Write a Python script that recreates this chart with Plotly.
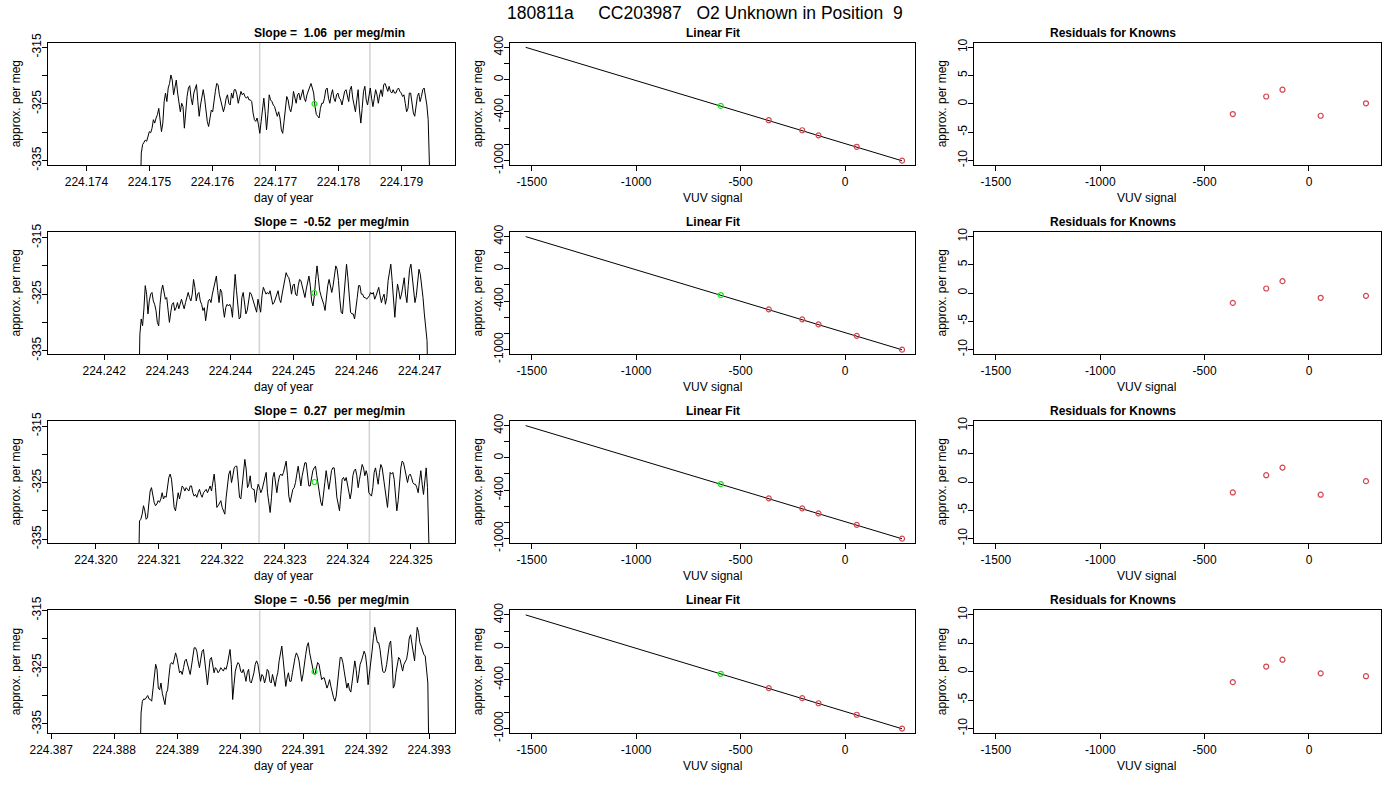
import numpy as np
import plotly.graph_objects as go

W, H = 1400, 800
FONT = "Liberation Sans, Arial, Helvetica, sans-serif"

main_title = "180811a     CC203987   O2 Unknown in Position  9"
slopes = ["1.06", "-0.52", "0.27", "-0.56"]

# time series, one per row (approx. per meg vs day of year)
t_start = [224.174849, 224.242545, 224.320671, 224.388406]
t_end = [224.179467, 224.247138, 224.325306, 224.393000]
x_lims = [[224.17339, 224.17985], [224.24111, 224.24756],
          [224.31924, 224.32570], [224.38695, 224.39341]]
gates = [[224.17675, 224.17850], [224.24446, 224.24621],
         [224.32259, 224.32434], [224.39031, 224.39206]]
unk_time = [224.17762, 224.24533, 224.32347, 224.39118]
unk_pm = [-325.0, -324.8, -324.9, -325.8]

series_1 = [
    -345, -333.7, -332.2, -331.9, -331.4, -331.6, -330.5, -329.9, -330.1, -329.3, -327.8, -328.4, -327.5,
    -326.9, -325.8, -327.8, -329.9, -328.4, -324.6, -323.1, -324.6, -322.2, -321.4, -319.9, -320.8, -323.4,
    -322.2, -320.8, -323.1, -324.9, -326.4, -324.9, -325.5, -329.3, -326.1, -323.7, -322.2, -321.8, -324.0,
    -325.2, -323.1, -322.5, -321.6, -324.6, -327.2, -325.2, -323.4, -322.5, -324.0, -326.4, -328.1, -329.0,
    -327.5, -326.1, -326.4, -324.0, -322.8, -321.4, -321.6, -323.4, -324.6, -325.8, -326.4, -325.5, -324.0,
    -323.4, -324.9, -325.2, -323.1, -324.0, -322.5, -322.5, -323.4, -324.9, -324.0, -322.8, -323.4, -323.1,
    -323.7, -324.0, -323.7, -324.3, -324.3, -324.6, -326.6, -327.8, -328.1, -327.5, -328.7, -330.2, -328.1,
    -325.5, -324.0, -326.4, -329.6, -326.9, -323.4, -324.3, -324.6, -325.2, -325.5, -326.4, -327.2, -326.4,
    -327.5, -329.6, -330.2, -328.1, -326.1, -323.7, -324.3, -325.8, -326.4,
    -325.2, -322.8, -324.0, -324.9, -323.4, -323.1, -324.3, -323.4, -322.5, -324.0, -324.6, -323.4, -322.8,
    -321.9, -321.4, -322.2, -323.1, -325.5, -326.9, -327.2, -327.5, -325.8, -324.9, -324.9, -324.0, -322.5,
    -322.2, -324.0, -324.9, -323.4, -322.5, -324.0, -324.6, -323.4, -323.1, -324.0, -324.3, -325.2, -324.0,
    -322.8, -322.5, -323.7, -324.6, -322.5, -321.9, -324.0, -325.5, -326.4, -324.3, -322.5, -326.1, -328.4,
    -325.8, -322.8, -321.9, -324.3, -325.2, -323.4, -322.2, -324.0, -325.5, -324.0, -322.5, -323.4, -324.9,
    -323.4, -322.5, -323.7, -321.6, -321.4, -322.2, -322.8, -321.9, -322.8, -323.1, -322.5, -323.1, -323.1,
    -322.5, -322.2, -322.8, -323.1, -323.7, -323.4, -324.9, -326.4, -325.8, -323.1, -323.1, -324.9, -326.6,
    -327.2, -325.5, -323.7, -323.1, -324.6, -323.7, -322.5, -322.2, -323.4, -325.2, -327.8, -331.4, -345,
]
series_2 = [
    -345, -332.1, -329.4, -330.6, -327.6, -323.5, -325.0, -328.5, -326.2, -325.0, -324.7, -326.2, -326.8,
    -327.9, -330.0, -330.6, -326.8, -324.4, -323.4, -325.0, -325.9, -325.6, -327.9, -330.0, -328.2, -326.8,
    -326.5, -327.9, -327.4, -326.5, -327.6, -326.8, -325.9, -326.8, -327.6, -326.5, -325.3, -324.7, -325.6,
    -326.2, -325.0, -322.4, -323.8, -326.2, -325.0, -324.7, -326.2, -326.8, -327.9, -327.4, -329.7, -328.2,
    -326.2, -325.9, -326.5, -325.0, -323.8, -322.6, -321.8, -324.4, -326.5, -324.1, -324.7, -327.4, -329.1,
    -327.4, -326.8, -327.1, -326.8, -327.4, -329.1, -325.0, -321.5, -324.4, -327.1, -329.4, -329.1, -325.6,
    -324.7, -326.8, -328.5, -327.9, -326.2, -324.7, -325.0, -325.9, -326.5, -327.4, -328.2, -325.9, -327.1,
    -328.2, -325.3, -323.8, -324.4, -325.0, -324.7, -325.0, -324.4, -325.6, -326.8, -326.5, -325.9, -325.0,
    -324.4, -325.9, -326.5, -325.0, -323.5, -322.4, -321.2, -321.8, -322.1, -323.2, -325.0, -323.5, -323.2,
    -325.0, -325.3, -323.5, -322.4, -322.6, -323.5, -324.4, -325.6, -324.1, -322.6, -321.8, -323.5, -326.2,
    -327.1, -325.3, -322.4, -320.0, -322.1, -324.4, -325.3, -325.9, -326.8, -327.9, -325.6, -323.5, -322.4,
    -323.5, -324.7, -323.5, -321.2, -320.0, -320.6, -322.6, -325.9, -328.2, -328.5, -325.6, -321.5, -319.7,
    -322.1, -325.3, -328.2, -328.5, -328.5, -329.4, -327.9, -325.6, -323.5, -323.5, -325.0, -325.0, -325.6,
    -325.6, -325.9, -325.6, -325.3, -324.7, -325.0, -324.7, -325.9, -325.3, -324.7, -323.8, -325.3, -326.5,
    -325.6, -325.0, -326.8, -325.6, -322.6, -320.6, -319.7, -322.6, -326.5, -329.1, -325.9, -323.2, -324.4,
    -325.9, -325.0, -323.5, -322.1, -325.0, -326.5, -323.5, -320.6, -319.7, -321.8, -324.4, -326.5, -325.3,
    -322.6, -320.6, -321.5, -323.2, -325.6, -328.5, -330.9, -333.2, -345,
]
series_3 = [
    -345, -331.8, -331.5, -330.6, -329.1, -330.0, -331.5, -331.2, -328.8, -326.5, -325.9, -327.4, -328.5,
    -329.1, -328.8, -328.2, -328.5, -327.9, -326.8, -327.9, -327.4, -327.6, -325.3, -324.1, -323.5, -324.4,
    -326.8, -329.4, -330.0, -328.2, -326.8, -327.9, -326.8, -325.6, -325.9, -326.5, -325.9, -326.2, -326.5,
    -325.6, -325.6, -326.8, -327.4, -327.1, -327.6, -326.8, -326.2, -327.1, -327.6, -326.8, -326.5, -326.2,
    -326.8, -326.2, -325.6, -326.5, -325.3, -323.5, -325.9, -329.4, -329.1, -328.5, -328.2, -329.4, -330.0,
    -330.6, -327.6, -325.0, -323.5, -322.9, -325.0, -323.8, -322.4, -322.1, -322.1, -324.7, -327.6, -327.9,
    -325.6, -322.9, -320.9, -322.6, -325.9, -325.3, -323.8, -325.9, -326.2, -326.2, -328.5, -326.5, -325.3,
    -325.9, -326.8, -326.2, -325.3, -324.4, -323.2, -326.8, -328.8, -330.3, -327.6, -324.1, -323.2, -324.7,
    -326.8, -325.0, -323.8, -323.5, -323.8, -323.2, -322.4, -321.2, -323.8, -327.4, -328.5, -327.4, -326.2,
    -325.9, -325.0, -323.5, -322.1, -323.8, -325.6, -323.8, -322.4, -321.5, -321.5, -323.8, -325.6, -325.6,
    -324.1, -322.9, -322.4, -322.1, -323.8, -325.3, -327.4, -328.5, -329.1, -327.4, -325.0, -322.9, -325.0,
    -326.2, -324.7, -322.9, -322.4, -322.4, -324.7, -327.6, -328.8, -330.0, -327.1, -324.4, -324.1, -324.7,
    -324.1, -325.6, -326.8, -327.9, -326.5, -323.8, -322.9, -322.6, -323.8, -325.9, -324.4, -322.6, -321.8,
    -322.4, -323.8, -322.9, -323.8, -326.8, -327.1, -327.4, -325.9, -323.2, -322.4, -324.1, -325.3, -323.2,
    -321.8, -322.4, -324.4, -326.5, -328.2, -329.4, -326.5, -323.2, -323.5, -323.2, -324.4, -327.6, -330.0,
    -328.2, -324.7, -322.4, -321.2, -321.5, -322.6, -323.8, -325.0, -323.8, -323.5, -324.1, -325.0, -325.3,
    -325.3, -325.9, -326.8, -324.7, -322.9, -325.3, -327.1, -324.7, -322.4, -325.9, -330.0, -345,
]
series_4 = [
    -345, -333.1, -331.0, -330.6, -330.7, -330.4, -330.0, -330.6, -330.7, -331.0, -329.0, -326.0, -324.5,
    -325.4, -328.7, -329.0, -327.8, -329.6, -330.7, -331.6, -329.6, -329.0, -326.6, -324.5, -324.2, -324.5,
    -323.6, -322.5, -323.3, -324.8, -326.0, -325.7, -326.3, -325.1, -323.9, -323.6, -324.5, -325.7, -326.3,
    -324.8, -323.0, -321.6, -321.6, -322.2, -323.9, -325.1, -323.6, -322.2, -321.9, -323.6, -326.0, -328.1,
    -326.0, -323.6, -323.3, -325.1, -326.0, -325.1, -325.4, -326.0, -325.7, -325.1, -325.4, -325.7, -325.1,
    -325.4, -324.5, -323.3, -321.9, -324.5, -330.7, -328.1, -325.7, -324.8, -324.2, -324.5, -325.7, -326.0,
    -325.4, -326.3, -327.5, -326.0, -325.4, -327.5, -327.8, -326.9, -326.0, -324.5, -323.9, -324.5, -326.3,
    -327.5, -326.3, -326.6, -327.8, -326.9, -325.4, -325.7, -327.5, -327.8, -326.3, -327.5, -328.4, -326.9,
    -326.0, -323.9, -322.5, -321.3, -323.6, -326.6, -328.4, -326.9, -326.0, -327.5, -327.5, -326.0, -324.2,
    -323.3, -322.5, -323.0, -323.9, -325.7, -327.5, -326.3, -324.2, -322.8, -321.3, -320.7, -322.5, -323.6,
    -324.8, -326.0, -326.3, -325.1, -324.2, -324.5, -326.0, -327.2, -326.9, -326.9, -327.8, -328.7, -328.1,
    -327.2, -328.4, -329.6, -330.4, -331.0, -330.1, -327.8, -324.8, -323.3, -323.3, -324.2, -325.7, -327.5,
    -328.7, -327.8, -329.0, -329.4, -327.8, -325.4, -323.9, -325.4, -327.8, -326.3, -324.5, -323.9, -322.8,
    -322.2, -322.8, -324.8, -328.1, -326.3, -324.8, -322.2, -319.8, -318.0, -319.5, -320.7, -320.7, -321.9,
    -323.9, -325.7, -326.0, -325.7, -324.5, -322.5, -321.0, -320.4, -323.6, -328.7, -328.1, -326.0, -324.2,
    -323.3, -323.6, -324.8, -325.7, -324.5, -323.9, -323.6, -322.2, -319.9, -319.3, -320.7, -322.8, -323.9,
    -320.7, -318.0, -318.9, -320.7, -321.3, -322.2, -322.8, -323.0, -325.4, -327.8, -345,
]
series = [series_1, series_2, series_3, series_4]

# calibration (linear fit) and residuals of the knowns
known_vuv = [-365, -205, -127, 56, 273]
known_pm = [-502, -626, -689, -831, -1002]
unk_vuv = -595
fit_vuv = [-1529, 273]
fit_pm = [400, -1004]
resid = [
    [-1.8, 1.3, 2.5, -2.1, 0.1],
    [-1.75, 0.8, 2.1, -0.85, -0.5],
    [-1.85, 1.2, 2.55, -2.25, 0.15],
    [-1.85, 0.9, 2.1, -0.3, -0.8],
]

# ---- layout (pixel boxes measured on the window) ----
col_px = [(48, 455), (510, 915), (974, 1381)]
row_px = [(42.7, 165), (232, 354), (421, 543), (610.3, 733)]


def px_x(p):
    return p / W


def px_y(p):
    return 1 - p / H


axis_style = dict(
    showline=True, linecolor="black", linewidth=1, mirror=True,
    ticks="outside", ticklen=5, tickwidth=1, tickcolor="black",
    showgrid=False, zeroline=False, automargin=False,
    tickfont=dict(family=FONT, size=12, color="black"),
)

RED = "#d2454f"
GREEN = "#1ee01e"


def nb(s):
    return s.replace(" ", "\u00a0")


fig = go.Figure()
layout = {}
shapes = []
annotations = []

for r in range(4):
    y0p, y1p = row_px[r]
    ydom = [px_y(y1p), px_y(y0p)]
    for c in range(3):
        k = r * 3 + c + 1
        sfx = "" if k == 1 else str(k)
        xid, yid = "x" + sfx, "y" + sfx
        x0p, x1p = col_px[c]
        xdom = [px_x(x0p), px_x(x1p)]

        if c == 0:
            lo, hi = x_lims[r]
            xt = np.arange(np.ceil(lo * 1000 - 1e-6), np.floor(hi * 1000 + 1e-6) + 1) / 1000
            xax = dict(range=[lo, hi], tickvals=list(xt), ticktext=[f"{v:.3f}" for v in xt])
            yr = [unk_pm[r] - 10.8, unk_pm[r] + 10.8]
            yv = [-335, -330, -325, -320, -315]
            yax = dict(range=yr, tickvals=yv, ticktext=["-335", "", "-325", "", "-315"])
            xlab, title = "day of year", nb(f"Slope =  {slopes[r]}  per meg/min")

            t = np.linspace(t_start[r], t_end[r], len(series[r]))
            fig.add_trace(go.Scatter(x=t, y=series[r], mode="lines", xaxis=xid, yaxis=yid,
                                     line=dict(color="black", width=1)))
            fig.add_trace(go.Scatter(x=[unk_time[r]], y=[unk_pm[r]], mode="markers", xaxis=xid, yaxis=yid,
                                     marker=dict(symbol="circle-open", size=5, color=GREEN, line=dict(width=1.2))))
            for g in gates[r]:
                shapes.append(dict(type="line", xref=xid, yref=yid + " domain", x0=g, x1=g, y0=0, y1=1,
                                   line=dict(color="#d3d3d3", width=1.5), layer="below"))
        elif c == 1:
            xv = [-1500, -1000, -500, 0]
            xax = dict(range=[-1604, 335], tickvals=xv, ticktext=[str(v) for v in xv])
            yv = [-1000, -800, -600, -400, -200, 0, 200, 400]
            yax = dict(range=[-1056, 457], tickvals=yv,
                       ticktext=["-1000", "", "", "-400", "", "0", "", "400"])
            xlab, title = "VUV signal", "Linear Fit"
            fig.add_trace(go.Scatter(x=fit_vuv, y=fit_pm, mode="lines", xaxis=xid, yaxis=yid,
                                     line=dict(color="black", width=1)))
            fig.add_trace(go.Scatter(x=known_vuv, y=known_pm, mode="markers", xaxis=xid, yaxis=yid,
                                     marker=dict(symbol="circle-open", size=5, color=RED, line=dict(width=1.2))))
            fig.add_trace(go.Scatter(x=[unk_vuv], y=[unk_pm[r]], mode="markers", xaxis=xid, yaxis=yid,
                                     marker=dict(symbol="circle-open", size=5, color=GREEN, line=dict(width=1.2))))
        else:
            xv = [-1500, -1000, -500, 0]
            xax = dict(range=[-1605, 345], tickvals=xv, ticktext=[str(v) for v in xv])
            yv = [-10, -5, 0, 5, 10]
            yax = dict(range=[-10.8, 10.8], tickvals=yv, ticktext=[str(v) for v in yv])
            xlab, title = "VUV signal", "Residuals for Knowns"
            fig.add_trace(go.Scatter(x=known_vuv, y=resid[r], mode="markers", xaxis=xid, yaxis=yid,
                                     marker=dict(symbol="circle-open", size=5, color=RED, line=dict(width=1.2))))

        layout["xaxis" + sfx] = dict(domain=xdom, anchor=yid, ticklabelstandoff=1, **xax, **axis_style)
        layout["yaxis" + sfx] = dict(domain=ydom, anchor=xid, tickangle=-90, ticklabelstandoff=-4,
                                     **yax, **axis_style)

        xc = (xdom[0] + xdom[1]) / 2
        yc = (ydom[0] + ydom[1]) / 2
        annotations.append(dict(text=f"<b>{title}</b>", x=xc, y=ydom[1], xref="paper", yref="paper",
                                yanchor="bottom", yshift=1, showarrow=False,
                                font=dict(family=FONT, size=12, color="black")))
        annotations.append(dict(text=xlab, x=xc, y=ydom[0], xref="paper", yref="paper",
                                yanchor="middle", yshift=-33, showarrow=False,
                                font=dict(family=FONT, size=12, color="black")))
        annotations.append(dict(text="approx. per meg", x=xdom[0], y=yc, xref="paper", yref="paper",
                                xanchor="center", yanchor="middle", xshift=-32.5, textangle=-90,
                                showarrow=False, font=dict(family=FONT, size=12, color="black")))

annotations.append(dict(text=nb(main_title), x=px_x(705), y=px_y(13), xref="paper", yref="paper",
                        xanchor="center", yanchor="middle", showarrow=False,
                        font=dict(family=FONT, size=17.5, color="black")))

fig.update_layout(
    width=W, height=H,
    margin=dict(l=0, r=0, t=0, b=0, autoexpand=False),
    paper_bgcolor="white", plot_bgcolor="white",
    showlegend=False,
    shapes=shapes,
    annotations=annotations,
    **layout,
)

# drop the browser's default 8px body margin so the figure sits at the window corner
fig.write_html("out.html", config={"displayModeBar": False},
               post_script="document.body.style.margin = '0px';")
